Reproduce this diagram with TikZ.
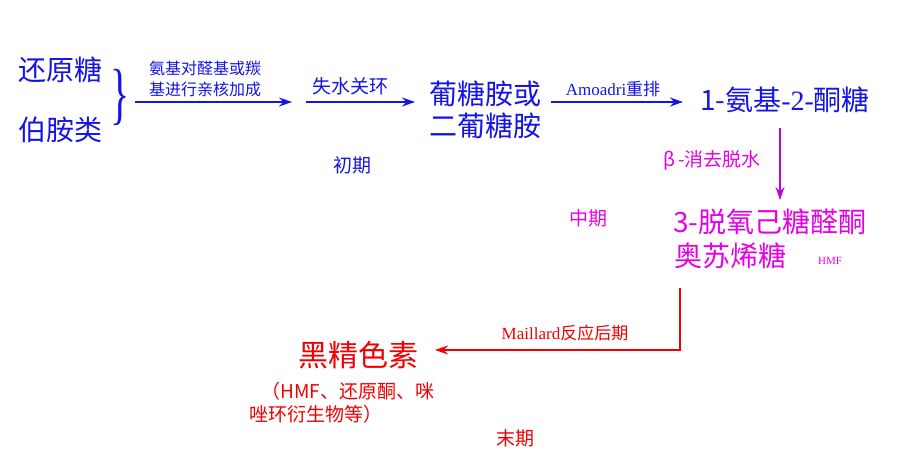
\documentclass[tikz,border=0pt]{standalone}
\usepackage{fontspec}
\setmainfont{Liberation Serif}
\newfontfamily\cjk{Noto Sans CJK SC}
\usetikzlibrary{arrows.meta}
\definecolor{bl}{RGB}{20,20,230}
\definecolor{mg}{RGB}{230,0,230}
\definecolor{rd}{RGB}{240,0,0}
\tikzset{
 big/.style={font=\cjk\fontsize{28}{32}\selectfont, inner sep=0pt, align=center},
 mid/.style={font=\cjk\fontsize{19}{23}\selectfont, inner sep=0pt, align=center},
 sml/.style={font=\cjk\fontsize{16}{21}\selectfont, inner sep=0pt, align=center},
 arr/.style={-{Stealth[length=13pt,width=9pt]}, line width=1.5pt}
}
\begin{document}
\begin{tikzpicture}[x=1pt,y=-1pt]
\useasboundingbox (0,0) rectangle (913,475);
\node[big,text=bl] (a) at (60,70) {还原糖};
\node[big,text=bl] (b) at (60,130) {伯胺类};
\node[text=bl,font=\fontsize{40}{40}\selectfont,inner sep=0pt,yscale=1.7] (br) at (120,97) {\}};
\node[sml,text=bl] (t1) at (205,79) {氨基对醛基或羰\\基进行亲核加成};
\coordinate (s1) at (135,102);
\coordinate (e1) at (292,102);
\draw[arr,bl] (s1) -- (e1);
\node[mid,text=bl] (t2) at (350,86) {失水关环};
\coordinate (s2) at (306,102);
\coordinate (e2) at (415,102);
\draw[arr,bl] (s2) -- (e2);
\node[big,text=bl] (g) at (485,110) {葡糖胺或\\二葡糖胺};
\node[mid,text=bl,font=\fontsize{17}{20}\selectfont] (t3) at (613,89) {Amoadri\cjk 重排};
\node[big,text=bl] (k) at (785,100) {1-\cjk 氨基\rmfamily -2-\cjk 酮糖};
\coordinate (s3) at (551,102);
\coordinate (e3) at (683,102);
\draw[arr,bl] (s3) -- (e3);
\node[mid,text=bl] (c1) at (352,165) {初期};
\coordinate (v1) at (780,128);
\coordinate (v2) at (780,200);
\draw[arr,mg!80!bl] (v1) -- (v2);
\node[big,text=mg] (m1) at (770,222) {3-\cjk 脱氧己糖醛酮};
\node[big,text=mg] (m2) at (730,256) {奥苏烯糖};
\node[mid,text=mg] (t4) at (712,160) {β\,-消去脱水};
\node[mid,text=mg] (c2) at (588,218) {中期};
\node[text=mg,font=\fontsize{11}{13}\selectfont,inner sep=0pt] (h) at (830,261) {HMF};
\node[big,text=rd,font=\cjk\fontsize{30}{34}\selectfont] (r) at (358,355) {黑精色素};
\coordinate (p1) at (680,288);
\coordinate (p2) at (680,350);
\coordinate (p3) at (435,350);
\draw[arr,rd] (p1) -- (p2) -- (p3);
\node[mid,text=rd,font=\fontsize{17}{20}\selectfont] (t5) at (565,333) {Maillard\cjk 反应后期};
\node[mid,text=rd,align=left] (n) at (342,403) {\hspace{0.6em}（HMF、还原酮、咪\\唑环衍生物等）};
\node[mid,text=rd] (c3) at (515,438) {末期};
\end{tikzpicture}
\end{document}
